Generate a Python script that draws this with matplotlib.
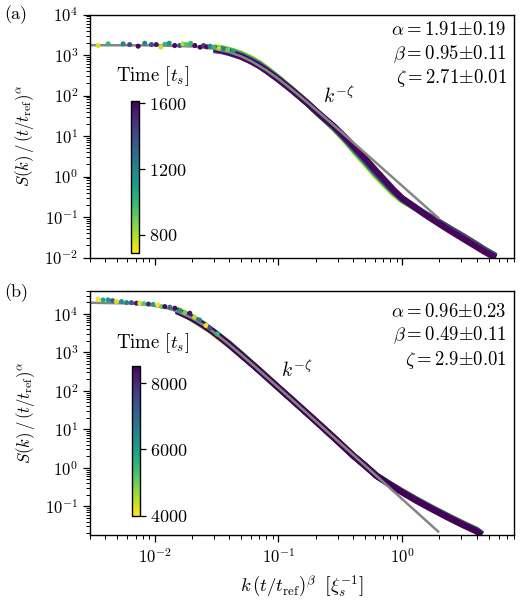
import numpy as np
import matplotlib
matplotlib.use('Agg')
import matplotlib.pyplot as plt
from matplotlib.ticker import LogLocator, NullFormatter
from matplotlib.colors import Normalize
from matplotlib.cm import ScalarMappable

plt.rcParams.update({
    'font.family': 'serif',
    'font.serif': ['cmr10'],
    'mathtext.fontset': 'cm',
    'axes.formatter.use_mathtext': True,
    'font.size': 12,
})

## Panel (a) data ##
times_a = [720, 900, 1100, 1300, 1450, 1600]
k_a = [0.03, 0.035, 0.04, 0.05, 0.06, 0.07, 0.08, 0.1, 0.13, 0.17, 0.22, 0.28, 0.35, 0.42,
       0.5, 0.6, 0.72, 0.85, 1.0, 1.2, 1.5, 1.9, 2.4, 3.0, 3.8, 4.6, 5.7]
S_a = [1440, 1320, 1170, 920, 700, 540, 410, 250, 132, 66, 32.5, 17.5, 9.0, 5.0,
       2.85, 1.5, 0.82, 0.47, 0.29, 0.195, 0.119, 0.074, 0.047, 0.031, 0.020, 0.014, 0.0098]
# ratio of each earlier time to the last one (t = 1600)
r_a_720 = [1.08, 1.12, 1.15, 1.18, 1.2, 1.18, 1.15, 1.1, 1.05, 1.0, 0.95, 0.88, 0.82, 0.76,
           0.73, 0.73, 0.76, 0.8, 0.87, 0.95, 1.05, 1.12, 1.16, 1.18, 1.18, 1.15, 1.12]
r_a_900 = [1.05, 1.1, 1.12, 1.14, 1.15, 1.14, 1.12, 1.08, 1.04, 1.0, 0.96, 0.9, 0.85, 0.8,
           0.78, 0.78, 0.8, 0.84, 0.9, 0.96, 1.04, 1.1, 1.13, 1.15, 1.15, 1.13, 1.1]
r_a_1100 = [1.0, 1.05, 1.08, 1.1, 1.1, 1.1, 1.08, 1.05, 1.02, 1.0, 0.97, 0.93, 0.89, 0.85,
            0.83, 0.83, 0.86, 0.89, 0.93, 0.98, 1.03, 1.07, 1.1, 1.1, 1.1, 1.08, 1.06]
r_a_1300 = [0.95, 0.98, 1.0, 1.03, 1.05, 1.05, 1.04, 1.02, 1.01, 1.0, 0.98, 0.95, 0.92, 0.9,
            0.88, 0.88, 0.9, 0.93, 0.96, 1.0, 1.04, 1.08, 1.12, 1.14, 1.14, 1.12, 1.1]
r_a_1450 = [0.92, 0.94, 0.96, 0.98, 1.0, 1.0, 1.0, 1.0, 1.0, 1.0, 0.99, 0.97, 0.95, 0.93,
            0.92, 0.92, 0.93, 0.95, 0.98, 1.01, 1.05, 1.09, 1.12, 1.13, 1.13, 1.12, 1.1]
r_a_1600 = [1.0] * len(k_a)
ratios_a = [r_a_720, r_a_900, r_a_1100, r_a_1300, r_a_1450, r_a_1600]

# low-k points
kd_a = [0.00349, 0.00421, 0.00556, 0.00628, 0.00735, 0.00831, 0.00941, 0.0103, 0.0112, 0.0121,
        0.0131, 0.0145, 0.0159, 0.0169, 0.018, 0.0195, 0.0211, 0.0233, 0.0248, 0.0263, 0.028,
        0.030, 0.033, 0.036, 0.039, 0.043]
Sd_a = [1718, 1887, 1887, 1815, 1651, 1954, 1815, 1815, 1560, 1850,
        1954, 1718, 1718, 1887, 1815, 1954, 1718, 1560, 1718, 1600, 1650,
        1560, 1490, 1420, 1360, 1260]
td_a = [750, 1000, 1200, 1400, 1600, 1200, 1400, 1550, 750, 1000,
        1150, 1600, 1400, 800, 950, 1000, 1600, 1600, 1450, 1600, 1200,
        1000, 800, 1200, 900, 1100]

# fit line
kg_a = [0.003, 0.01, 0.02, 0.03, 0.04, 0.05, 0.06, 0.08, 0.1, 0.13, 0.17, 0.22, 0.3,
        0.45, 0.7, 1.0, 1.4, 1.95]
Sg_a = [1749, 1730, 1629, 1431, 1178, 926, 712, 419, 257, 136, 68.6, 34.8, 15.2,
        5.09, 1.54, 0.586, 0.2355, 0.0959]

## Panel (b) data ##
times_b = [4000, 5000, 6000, 7000, 8000, 8500]
k_b = [0.015, 0.02, 0.025, 0.03, 0.04, 0.05, 0.065, 0.08, 0.1, 0.13, 0.17, 0.22, 0.3, 0.4,
       0.5, 0.62, 0.8, 1.0, 1.3, 1.78, 2.4, 3.2, 4.0, 4.4]
S_b = [12200, 7800, 5050, 3330, 1600, 870, 418, 230, 121, 57, 26.3, 12.4, 5.0, 2.1,
       1.15, 0.62, 0.36, 0.23, 0.14, 0.081, 0.049, 0.031, 0.0222, 0.0178]
r_b_4000 = [1.1, 1.08, 0.95, 0.92, 0.95, 1.0, 1.05, 1.05, 1.03, 1.02, 1.02, 1.03, 1.02, 1.0,
            1.0, 1.02, 1.05, 1.08, 1.1, 1.1, 1.12, 1.12, 1.12, 1.1]
r_b_5000 = [1.05, 0.95, 0.93, 1.05, 1.08, 1.05, 1.02, 1.02, 1.02, 1.01, 1.01, 1.02, 1.01, 1.0,
            1.0, 1.02, 1.04, 1.06, 1.08, 1.08, 1.1, 1.1, 1.1, 1.08]
r_b_6000 = [0.98, 1.04, 1.06, 0.97, 1.0, 1.04, 1.0, 1.0, 1.0, 1.0, 1.0, 1.01, 1.0, 1.0,
            1.0, 1.01, 1.03, 1.05, 1.06, 1.06, 1.07, 1.07, 1.07, 1.06]
r_b_7000 = [1.02, 0.98, 1.02, 1.03, 0.97, 0.97, 1.0, 1.0, 1.0, 1.0, 1.0, 1.0, 1.0, 1.0,
            1.0, 1.01, 1.03, 1.05, 1.06, 1.07, 1.08, 1.08, 1.08, 1.07]
r_b_8000 = [0.97, 1.02, 0.98, 1.0, 1.03, 0.98, 1.0, 1.0, 1.0, 1.0, 1.0, 1.0, 1.0, 1.0,
            1.0, 1.0, 1.02, 1.03, 1.04, 1.04, 1.05, 1.05, 1.05, 1.04]
r_b_8500 = [1.0] * len(k_b)
ratios_b = [r_b_4000, r_b_5000, r_b_6000, r_b_7000, r_b_8000, r_b_8500]

kd_b = [0.00349, 0.00383, 0.0042, 0.00456, 0.00491, 0.00539, 0.00592, 0.00649, 0.00712, 0.00758,
        0.0082, 0.0089, 0.0097, 0.01065, 0.01135, 0.01207, 0.01325, 0.01453, 0.01595, 0.0175, 0.0192,
        0.021, 0.023, 0.026, 0.028, 0.032]
Sd_b = [24100, 23100, 23100, 22100, 20850, 20850, 19630, 19630, 18960, 18960,
        18500, 18000, 17600, 17130, 15480, 15480, 14930, 14060, 12180, 10810, 10420,
        8200, 7000, 5000, 4300, 3000]
td_b = [4100, 5800, 6200, 7200, 4300, 6300, 6500, 7300, 8300, 4200,
        5200, 8000, 6000, 4000, 5000, 8400, 7000, 8400, 6200, 5000, 8300,
        4500, 6500, 4100, 7500, 5500]

kg_b = [0.003, 0.006, 0.009, 0.012, 0.015, 0.02, 0.025, 0.03, 0.04, 0.05, 0.065, 0.08, 0.1,
        0.13, 0.17, 0.22, 0.3, 0.4, 0.5, 0.65, 0.85, 1.1, 1.5, 1.95]
Sg_b = [19480, 18740, 17070, 14600, 11860, 7830, 5065, 3339, 1604, 874, 419, 231, 121.8,
        57.1, 26.3, 12.45, 5.06, 2.2, 1.153, 0.538, 0.247, 0.117, 0.0476, 0.0222]

fit_a = [r'$\alpha = 1.91{\pm}0.19$', r'$\beta = 0.95{\pm}0.11$', r'$\zeta = 2.71{\pm}0.01$']
fit_b = [r'$\alpha = 0.96{\pm}0.23$', r'$\beta = 0.49{\pm}0.11$', r'$\zeta = 2.9{\pm}0.01$']

cmap = plt.get_cmap('viridis_r')

fig = plt.figure(figsize=(5.25, 6), dpi=100)
ax_a = fig.add_axes([0.1714, 0.5708, 0.8076, 0.405])
ax_b = fig.add_axes([0.1714, 0.1083, 0.8076, 0.4072])


def draw_panel(ax, times, k, S, ratios, kd, Sd, td, kg, Sg, vmin, vmax):
    norm = Normalize(vmin=vmin, vmax=vmax)
    for t, r in zip(times, ratios):
        ax.plot(k, np.array(S) * np.array(r), color=cmap(norm(t)), lw=4.5,
                solid_capstyle='butt', zorder=2)
    ax.plot(kg, Sg, color='#858585', lw=1.8, zorder=2.5)
    ax.scatter(kd, Sd, c=td, cmap=cmap, norm=norm, s=13, edgecolors='none', zorder=3)
    ax.set_xscale('log')
    ax.set_yscale('log')
    ax.set_xlim(0.003, 8)
    ax.yaxis.set_major_locator(LogLocator(base=10, numticks=100))
    ax.yaxis.set_minor_locator(LogLocator(base=10, subs=np.arange(2, 10), numticks=100))
    ax.yaxis.set_minor_formatter(NullFormatter())
    ax.xaxis.set_minor_locator(LogLocator(base=10, subs=np.arange(2, 10), numticks=100))
    ax.xaxis.set_minor_formatter(NullFormatter())
    ax.tick_params(which='major', direction='out', length=5, width=0.9, top=False, right=False)
    ax.tick_params(which='minor', direction='out', length=3, width=0.7, top=False, right=False)
    for sp in ax.spines.values():
        sp.set_linewidth(1.0)
    ax.set_ylabel(r'$S(k)\,/\,(t/t_{\mathrm{ref}})^{\alpha}$', fontsize=12, labelpad=6)
    return norm


norm_a = draw_panel(ax_a, times_a, k_a, S_a, ratios_a, kd_a, Sd_a, td_a, kg_a, Sg_a, 690, 1615)
ax_a.set_ylim(1e-2, 1e4)
ax_a.set_xticklabels([])
ax_a.text(0.31, 100, r'$k^{-\zeta}$', ha='center', va='center', fontsize=14)
for txt, yy in zip(fit_a, [0.936, 0.836, 0.737]):
    ax_a.text(0.983, yy, txt, transform=ax_a.transAxes, ha='right', va='center', fontsize=13.5)
cax_a = ax_a.inset_axes([0.0967, 0.0185, 0.019, 0.6255])
cb_a = fig.colorbar(ScalarMappable(norm=norm_a, cmap=cmap), cax=cax_a, ticks=[800, 1200, 1600])
ax_a.text(0.1486, 0.747, r'Time [$t_s$]', transform=ax_a.transAxes, ha='center', va='center', fontsize=13.5)

norm_b = draw_panel(ax_b, times_b, k_b, S_b, ratios_b, kd_b, Sd_b, td_b, kg_b, Sg_b, 4000, 8530)
ax_b.set_ylim(1.8e-2, 4e4)
ax_b.set_xlabel(r'$k\,(t/t_{\mathrm{ref}})^{\beta}\;\;\left[\xi_s^{-1}\right]$', fontsize=13.5, labelpad=6)
ax_b.text(0.14, 350, r'$k^{-\zeta}$', ha='center', va='center', fontsize=14)
for txt, yy in zip(fit_b, [0.914, 0.819, 0.717]):
    ax_b.text(0.983, yy, txt, transform=ax_b.transAxes, ha='right', va='center', fontsize=13.5)
cax_b = ax_b.inset_axes([0.098, 0.079, 0.019, 0.614])
cb_b = fig.colorbar(ScalarMappable(norm=norm_b, cmap=cmap), cax=cax_b, ticks=[4000, 6000, 8000])
ax_b.text(0.1486, 0.785, r'Time [$t_s$]', transform=ax_b.transAxes, ha='center', va='center', fontsize=13.5)

for cb in [cb_a, cb_b]:
    cb.outline.set_linewidth(1.0)
    cb.ax.tick_params(direction='out', length=4, width=0.9, labelsize=13)
    cb.ax.minorticks_off()

fig.text(0.008, 0.975, '(a)', fontsize=13, va='center')
fig.text(0.008, 0.512, '(b)', fontsize=13, va='center')

fig.savefig('out.png', dpi=100)
